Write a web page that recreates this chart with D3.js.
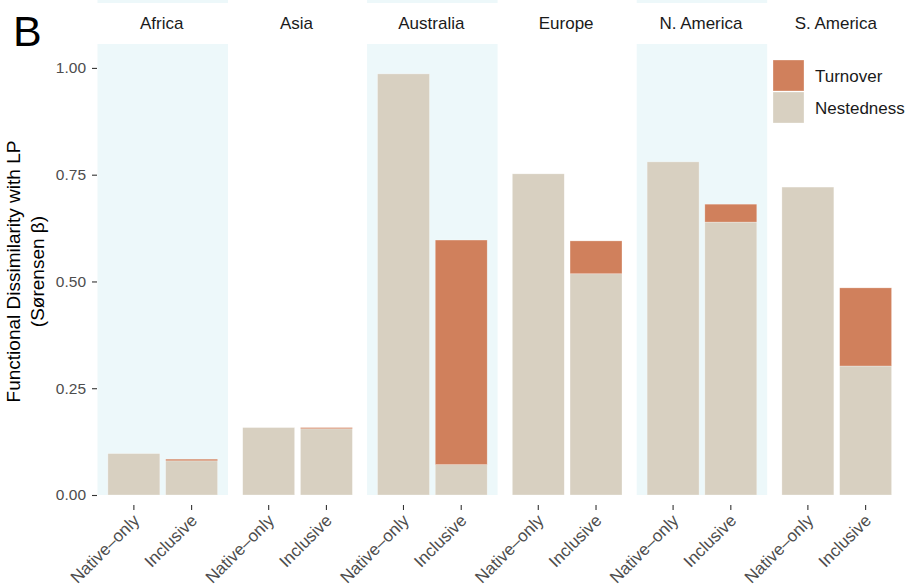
<!DOCTYPE html>
<html>
<head>
<meta charset="utf-8">
<script src="https://cdn.jsdelivr.net/npm/d3@7"></script>
<style>
  body { margin: 0; background: white; }
  svg text { font-family: "Liberation Sans", Arial, Helvetica, sans-serif; }
</style>
</head>
<body>
<div id="chart"></div>
<script>
// data
var regions = ["Africa", "Asia", "Australia", "Europe", "N. America", "S. America"];
var groups = ["Native\u2013only", "Inclusive"];
var nestNative = [0.097, 0.158, 0.986, 0.752, 0.780, 0.721];
var turnNative = [0, 0, 0, 0, 0, 0];
var nestIncl = [0.080, 0.155, 0.071, 0.518, 0.639, 0.302];
var turnIncl = [0.004, 0.003, 0.526, 0.077, 0.042, 0.183];
var yTicks = [0, 0.25, 0.5, 0.75, 1];
var legendItems = ["Turnover", "Nestedness"];

var colTurn = "#d0805c";
var colNest = "#d8d0c1";
var colShade = "#edf8fa";

var width = 919, height = 586;
var plotTop = 44, plotBottom = 495;

var svg = d3.select("#chart")
  .append("svg")
  .attr("width", width)
  .attr("height", height)
  .attr("xmlns", "http://www.w3.org/2000/svg");

var y = d3.scaleLinear().domain([0, 1.056]).range([plotBottom, plotTop]);

// facets
var panel = d3.scaleBand()
  .domain(regions)
  .range([97.5, 902])
  .paddingInner(0.032)
  .paddingOuter(0);

var inner = d3.scaleBand()
  .domain(groups)
  .range([0, panel.bandwidth()])
  .paddingInner(0.1)
  .paddingOuter(0.18);

// build rows for each bar (stacked: nestedness below, turnover above)
var rows = [];
regions.forEach(function(r, i) {
  rows.push({ region: r, group: groups[0], nest: nestNative[i], turn: turnNative[i] });
  rows.push({ region: r, group: groups[1], nest: nestIncl[i], turn: turnIncl[i] });
});

// shaded panel backgrounds (alternating)
var shaded = regions.filter(function(d, i) { return i % 2 == 0; });
svg.selectAll("rect.shade")
  .data(shaded)
  .enter()
  .append("rect")
  .attr("class", "shade")
  .attr("x", function(d) { return panel(d); })
  .attr("y", plotTop)
  .attr("width", panel.bandwidth())
  .attr("height", plotBottom - plotTop)
  .attr("fill", colShade);

// thin band at the very top (bottom of the panel above)
svg.selectAll("rect.shadeTop")
  .data(shaded)
  .enter()
  .append("rect")
  .attr("class", "shadeTop")
  .attr("x", function(d) { return panel(d); })
  .attr("y", 0)
  .attr("width", panel.bandwidth())
  .attr("height", 3)
  .attr("fill", colShade);

// strip labels
svg.selectAll("text.strip")
  .data(regions)
  .enter()
  .append("text")
  .attr("class", "strip")
  .attr("x", function(d) { return panel(d) + panel.bandwidth() / 2 - 1; })
  .attr("y", 29)
  .attr("text-anchor", "middle")
  .attr("font-size", "17px")
  .attr("fill", "#1a1a1a")
  .text(function(d) { return d; });

// bars
var bars = svg.selectAll("g.bar")
  .data(rows)
  .enter()
  .append("g")
  .attr("class", "bar")
  .attr("transform", function(d) { return "translate(" + (panel(d.region) + inner(d.group)) + ",0)"; });

bars.append("rect")
  .attr("x", 0)
  .attr("width", inner.bandwidth())
  .attr("y", function(d) { return y(d.nest); })
  .attr("height", function(d) { return y(0) - y(d.nest); })
  .attr("fill", colNest)
  .attr("stroke", "#ffffff")
  .attr("stroke-opacity", 0.5)
  .attr("stroke-width", 0.6);

bars.filter(function(d) { return d.turn > 0; })
  .append("rect")
  .attr("x", 0)
  .attr("width", inner.bandwidth())
  .attr("y", function(d) { return y(d.nest + d.turn); })
  .attr("height", function(d) { return y(d.nest) - y(d.nest + d.turn); })
  .attr("fill", colTurn)
  .attr("stroke", "#ffffff")
  .attr("stroke-opacity", 0.5)
  .attr("stroke-width", 0.6);

// y axis
var yAxis = svg.append("g")
  .attr("transform", "translate(97,0)")
  .call(d3.axisLeft(y).tickValues(yTicks).tickFormat(d3.format(".2f")).tickSize(5).tickPadding(6));
yAxis.select(".domain").remove();
yAxis.selectAll(".tick line").attr("stroke", "#333333").attr("stroke-width", 1.1);
yAxis.selectAll(".tick text")
  .attr("font-size", "15.5px")
  .attr("fill", "#4d4d4d")
  .attr("font-family", null);

// x axis per facet
regions.forEach(function(r) {
  var g = svg.append("g")
    .attr("transform", "translate(" + panel(r) + ",505)")
    .call(d3.axisBottom(inner).tickSize(5).tickPadding(0));
  g.select(".domain").remove();
  g.selectAll(".tick line").attr("stroke", "#333333").attr("stroke-width", 1.1);
  g.selectAll(".tick text")
    .attr("font-family", null)
    .attr("font-size", "17px")
    .attr("fill", "#4d4d4d")
    .attr("text-anchor", "end")
    .attr("x", 0)
    .attr("y", 0)
    .attr("dy", "0.71em")
    .attr("transform", "translate(-2,8) rotate(-45)");
});

// y title
var yTitle = svg.append("text")
  .attr("transform", "translate(20," + ((plotTop + plotBottom) / 2 + 2) + ") rotate(-90)")
  .attr("text-anchor", "middle")
  .attr("font-size", "19px")
  .attr("fill", "#000");
yTitle.append("tspan").attr("x", 0).attr("y", 0).text("Functional Dissimilarity with LP");
yTitle.append("tspan").attr("x", 0).attr("y", 24).text("(S\u00f8rensen \u03b2)");

// panel tag
svg.append("text")
  .attr("x", 13)
  .attr("y", 46)
  .attr("font-size", "43px")
  .attr("fill", "#000")
  .text("B");

// legend
var legend = svg.selectAll("g.legend")
  .data(legendItems)
  .enter()
  .append("g")
  .attr("class", "legend")
  .attr("transform", function(d, i) { return "translate(773," + (60 + i * 32) + ")"; });

legend.append("rect")
  .attr("width", 31)
  .attr("height", 31)
  .attr("fill", function(d, i) { return i == 0 ? colTurn : colNest; })
  .attr("stroke", "#ffffff")
  .attr("stroke-opacity", 0.5)
  .attr("stroke-width", 0.6);

legend.append("text")
  .attr("x", 42)
  .attr("y", 21.5)
  .attr("font-size", "17px")
  .attr("fill", "#1a1a1a")
  .text(function(d) { return d; });
</script>
</body>
</html>
